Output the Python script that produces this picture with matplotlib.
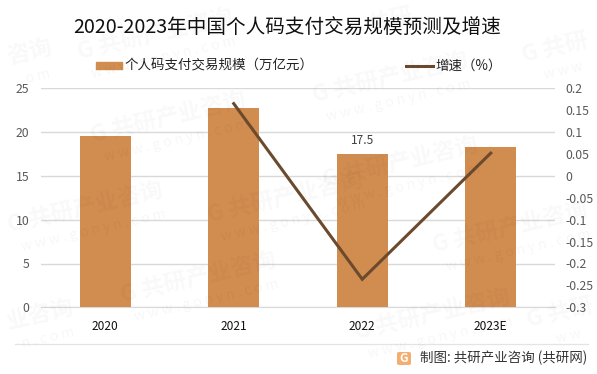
import matplotlib
matplotlib.use('Agg')
import matplotlib.pyplot as plt
from matplotlib.patches import Rectangle, FancyBboxPatch
from matplotlib.lines import Line2D

W, H = 597, 374
plt.rcParams['font.family'] = ['Noto Sans CJK SC', 'DejaVu Sans']

categories = ['2020', '2021', '2022', '2023E']
scale_values = [19.55, 22.75, 17.5, 18.3]
growth_categories = [1, 2, 3]
growth_values = [0.165, -0.236, 0.052]
left_ticks = [0, 5, 10, 15, 20, 25]
right_ticks = [-0.3, -0.25, -0.2, -0.15, -0.1, -0.05, 0, 0.05, 0.1, 0.15, 0.2]
right_labels = ['-0.3', '-0.25', '-0.2', '-0.15', '-0.1', '-0.05', '0', '0.05', '0.1', '0.15', '0.2']
title = '2020-2023年中国个人码支付交易规模预测及增速'
legend_bar = '个人码支付交易规模（万亿元）'
legend_line = '增速（%）'
source = '制图: 共研产业咨询 (共研网)'
wm_full = 'G 共研产业咨询'
wm_url = 'w w w . g o n y n . c o m'
# watermark stamps: centre x, centre y, Chinese part, url part
wm_stamps = [(155, 42, wm_full, wm_url), (390, 85, wm_full, wm_url), (168, 125, wm_full, wm_url),
             (400, 170, wm_full, wm_url), (198, 285, wm_full, wm_url), (432, 322, wm_full, wm_url),
             (285, 205, wm_full, wm_url), (510, 235, wm_full, wm_url), (85, 215, wm_full, wm_url),
             (30, 60, '咨询', 'o m'), (40, 322, '业咨询', 'n . c o m'), (555, 55, 'G 共研', 'w w w'),
             (380, 30, 'G 共研', ''), (560, 320, 'G 共研', 'w w')]

BAR = '#D18C4F'
LINE = '#6B4A2E'
GRID = '#D9D9D9'
TXT = '#595959'

def fx(p): return p / W
def fy(p): return 1 - p / H

fig = plt.figure(figsize=(W / 100, H / 100), dpi=100, facecolor='white')
ax = fig.add_axes([fx(41), fy(307.3), (555 - 41) / W, (307.3 - 88.3) / H])
ax.set_facecolor('none')
x = list(range(len(categories)))
ax.bar(x, scale_values, width=0.4, color=BAR, zorder=3)
ax.set_xlim(-0.5, 3.5)
ax.set_ylim(0, 25)
ax.set_yticks(left_ticks)
ax.set_xticks(x)
ax.set_xticklabels(categories, fontsize=8.6, color='#111111')
ax.tick_params(axis='y', length=0, labelsize=8.8, labelcolor=TXT, pad=8.5)
ax.tick_params(axis='x', length=0, pad=9)
ax.grid(axis='y', color=GRID, lw=1, zorder=0)
ax.set_axisbelow(True)
for s in ['top', 'left', 'right']:
    ax.spines[s].set_visible(False)
ax.spines['bottom'].set_color(GRID)
ax.text(2, scale_values[2] + 0.75, '17.5', ha='center', va='bottom', fontsize=8.6, color='#404040', zorder=6)

ax2 = ax.twinx()
ax2.set_ylim(-0.3, 0.2)
ax2.set_yticks(right_ticks)
ax2.set_yticklabels(right_labels)
ax2.tick_params(axis='y', length=0, labelsize=8.8, labelcolor=TXT, pad=7.5)
for s in ax2.spines.values():
    s.set_visible(False)
ax2.plot(growth_categories, growth_values, color=LINE, lw=2.2, solid_joinstyle='miter', zorder=5)

fig.text(fx(287.5), fy(28), title, ha='center', va='center', fontsize=14.1, color='#111111')

fig.add_artist(Rectangle((fx(96), fy(69)), 26 / W, 7 / H, transform=fig.transFigure, color=BAR))
fig.text(fx(125), fy(65.5), legend_bar, ha='left', va='center', fontsize=9.7, color='#222222')
fig.add_artist(Line2D([fx(405.5), fx(433)], [fy(65.5), fy(65.5)], transform=fig.transFigure, color=LINE, lw=2.2))
fig.text(fx(435), fy(65.5), legend_line, ha='left', va='center', fontsize=9.7, color='#222222')

fig.add_artist(Line2D([fx(15), fx(597 - 9)], [fy(343.5), fy(343.5)], transform=fig.transFigure, color='#E4E4E4', lw=0.9))
fig.add_artist(FancyBboxPatch((fx(397), fy(365)), 14 / W, 13 / H, transform=fig.transFigure,
                              boxstyle='round,pad=0,rounding_size=0.004', color='#F5AE72', lw=0))
fig.text(fx(404), fy(358.5), 'G', ha='center', va='center', fontsize=8.5, fontweight='bold', color='white')
fig.text(fx(420), fy(358), source, ha='left', va='center', fontsize=9.7, color='#333333')

for cx, cy, cn, url in wm_stamps:
    fig.text(fx(cx), fy(cy - 7), cn, ha='center', va='center', rotation=13, rotation_mode='anchor',
             fontsize=16.5, fontweight='bold', color='black', alpha=0.028, zorder=10)
    if url:
        fig.text(fx(cx + 8), fy(cy + 16), url, ha='center', va='center', rotation=13, rotation_mode='anchor',
                 fontsize=10, color='black', alpha=0.035, zorder=10)

fig.savefig('out.png', dpi=100)
